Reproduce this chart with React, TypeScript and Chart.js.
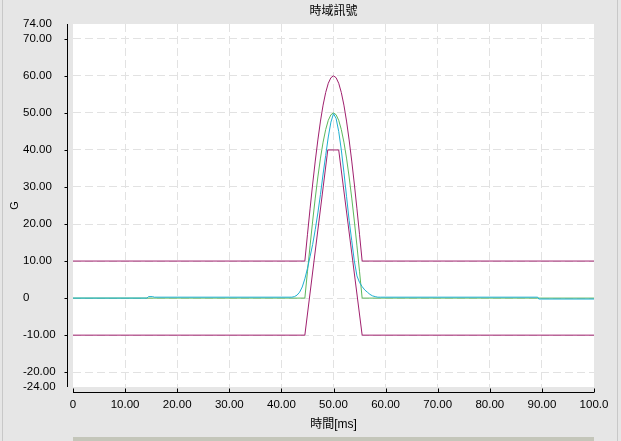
import React, { useEffect, useRef } from "react";
import { Chart, registerables } from "chart.js";

Chart.register(...registerables);

const chartTitle = "時域訊號";
const xAxisTitle = "時間[ms]";
const yAxisTitle = "G";

const xTickValues = [0, 10, 20, 30, 40, 50, 60, 70, 80, 90, 100];
const yTickValues = [-24, -20, -10, 0, 10, 20, 30, 40, 50, 60, 70, 74];

// upper tolerance (magenta)
const upperTimes = [0, 44.5, 45, 45.5, 46, 46.5, 47, 47.5, 48, 48.5, 49, 49.5, 50, 50.5, 51, 51.5, 52, 52.5, 53, 53.5, 54, 54.5, 55, 55.5, 100];
const upperValues = [10, 10, 17.1, 24.1, 30.8, 37.0, 42.7, 47.8, 52.1, 55.5, 58.0, 59.5, 60.0, 59.5, 58.0, 55.5, 52.1, 47.8, 42.7, 37.0, 30.8, 24.1, 17.1, 10, 10];

// nominal pulse (green)
const nominalTimes = [0, 44.5, 45, 45.5, 46, 46.5, 47, 47.5, 48, 48.5, 49, 49.5, 50, 50.5, 51, 51.5, 52, 52.5, 53, 53.5, 54, 54.5, 55, 55.5, 100];
const nominalValues = [0, 0, 7.1, 14.1, 20.8, 27.0, 32.7, 37.8, 42.1, 45.5, 48.0, 49.5, 50.0, 49.5, 48.0, 45.5, 42.1, 37.8, 32.7, 27.0, 20.8, 14.1, 7.1, 0, 0];

// lower tolerance (magenta)
const lowerTimes = [0, 44.5, 48.9, 51.0, 55.5, 100];
const lowerValues = [-10, -10, 40, 40, -10, -10];

// measured signal (cyan)
const measuredTimes = [0, 14.2, 14.5, 15.3, 15.6, 42.0, 42.5, 43, 43.5, 44, 44.5, 45, 45.5, 46, 46.5, 47, 47.5, 48, 48.5, 49, 49.5, 50, 50.5, 51, 51.5, 52, 52.5, 53, 53.5, 54, 54.5, 55, 55.5, 56, 56.5, 57, 57.5, 58, 58.5, 59, 89.2, 89.4, 100];
const measuredValues = [0, 0, 0.4, 0.4, 0.25, 0.25, 0.4, 0.8, 1.6, 3.0, 5.2, 8.0, 11.2, 14.5, 18.5, 23, 28, 33.5, 38.5, 43.5, 47.5, 49.8, 48.5, 45, 40, 34, 27.5, 21, 15.5, 10, 6, 4.2, 3.1, 2.2, 1.6, 1.0, 0.6, 0.4, 0.25, 0.25, 0.25, -0.25, -0.25];

const MAGENTA = "#A0206E";
const GREEN = "#5CB85C";
const CYAN = "#1EAFD2";
const BG = "#E6E6E6";
const GRID = "#E2E2E2";

const NUM_FONT = "'Liberation Sans', Arial, 'Noto Sans CJK TC', sans-serif";
const CJK_FONT = "'Liberation Sans', 'Noto Sans CJK TC', 'Noto Sans CJK JP', sans-serif";

const toPoints = (xs: number[], ys: number[]) => xs.map((x, i) => ({ x, y: ys[i] }));

const fmtY = (v: number) => (v === 0 ? "0" : v.toFixed(2));
const fmtX = (v: number) => (v === 0 ? "0" : v === 100 ? "100.0" : v.toFixed(2));

const framePlugin = {
  id: "framePlugin",
  beforeDraw(chart: any) {
    const { ctx, chartArea } = chart;
    ctx.save();
    ctx.fillStyle = "#FFFFFF";
    ctx.fillRect(chartArea.left, chartArea.top, chartArea.right - chartArea.left, chartArea.bottom - chartArea.top);
    ctx.restore();
  },
  afterDraw(chart: any) {
    const { ctx, chartArea } = chart;
    const xs = chart.scales.x;
    const ys = chart.scales.y;
    ctx.save();
    ctx.strokeStyle = "#000000";
    ctx.lineWidth = 1;
    // y axis
    const ax = chartArea.left - 5.5;
    ctx.beginPath();
    ctx.moveTo(ax, chartArea.top);
    ctx.lineTo(ax, chartArea.bottom);
    yTickValues.forEach((v) => {
      if (v === ys.min || v === ys.max) return;
      const py = Math.round(ys.getPixelForValue(v)) + 0.5;
      ctx.moveTo(ax - 3, py);
      ctx.lineTo(ax, py);
    });
    // x axis
    const ay = chartArea.bottom + 5.5;
    ctx.moveTo(chartArea.left, ay);
    ctx.lineTo(chartArea.right, ay);
    xTickValues.forEach((v) => {
      const px = Math.round(xs.getPixelForValue(v)) + 0.5;
      ctx.moveTo(px, ay);
      ctx.lineTo(px, ay - 4);
    });
    ctx.stroke();

    ctx.fillStyle = "#000000";
    ctx.textAlign = "center";
    ctx.textBaseline = "middle";
    ctx.font = "12px " + CJK_FONT;
    ctx.fillText(chartTitle, (chartArea.left + chartArea.right) / 2, 12);

    ctx.translate(15, (chartArea.top + chartArea.bottom) / 2);
    ctx.rotate(-Math.PI / 2);
    ctx.font = "11px " + NUM_FONT;
    ctx.fillText(yAxisTitle, 0, 0);
    ctx.restore();
  },
};

export default function App() {
  const canvasRef = useRef<HTMLCanvasElement | null>(null);

  useEffect(() => {
    document.body.style.margin = "0";
    const canvas = canvasRef.current;
    if (!canvas) return;
    const chart = new Chart(canvas, {
      type: "line",
      data: {
        datasets: [
          { label: "measured", data: toPoints(measuredTimes, measuredValues), borderColor: CYAN, backgroundColor: CYAN },
          { label: "nominal", data: toPoints(nominalTimes, nominalValues), borderColor: GREEN, backgroundColor: GREEN },
          { label: "upper", data: toPoints(upperTimes, upperValues), borderColor: MAGENTA, backgroundColor: MAGENTA },
          { label: "lower", data: toPoints(lowerTimes, lowerValues), borderColor: MAGENTA, backgroundColor: MAGENTA },
        ],
      },
      options: {
        responsive: false,
        animation: false,
        devicePixelRatio: 1,
        layout: { padding: { left: 23, right: 27, top: 24, bottom: 0 } },
        elements: {
          point: { radius: 0, hoverRadius: 0 },
          line: { borderWidth: 1, tension: 0, fill: false },
        },
        plugins: {
          legend: { display: false },
          title: { display: false },
          tooltip: { enabled: false },
        },
        events: [],
        scales: {
          x: {
            type: "linear",
            min: 0,
            max: 100,
            afterBuildTicks: (scale: any) => {
              scale.ticks = xTickValues.map((v) => ({ value: v }));
            },
            afterFit: (scale: any) => {
              scale.height = 54;
            },
            ticks: {
              autoSkip: false,
              maxRotation: 0,
              padding: 11,
              color: "#000000",
              font: { family: NUM_FONT, size: 11.5 },
              callback: (v: any) => fmtX(Number(v)),
            },
            grid: {
              drawTicks: false,
              color: (c: any) => (c.tick && (c.tick.value === 0 || c.tick.value === 100) ? "rgba(0,0,0,0)" : GRID),
              lineWidth: 1,
            },
            border: { display: false, dash: [8, 4] },
            title: {
              display: true,
              text: xAxisTitle,
              color: "#000000",
              font: { family: CJK_FONT, size: 12 },
              padding: { top: 0, bottom: 9 },
            },
          },
          y: {
            type: "linear",
            min: -24,
            max: 74,
            afterBuildTicks: (scale: any) => {
              scale.ticks = yTickValues.map((v) => ({ value: v }));
            },
            afterFit: (scale: any) => {
              scale.width = 50;
            },
            ticks: {
              autoSkip: false,
              crossAlign: "far",
              padding: 6,
              color: "#000000",
              font: { family: NUM_FONT, size: 11.5 },
              callback: (v: any) => fmtY(Number(v)),
            },
            grid: {
              drawTicks: false,
              color: (c: any) => (c.tick && (c.tick.value === -24 || c.tick.value === 74) ? "rgba(0,0,0,0)" : GRID),
              lineWidth: 1,
            },
            border: { display: false, dash: [8, 4] },
            title: { display: false },
          },
        },
      },
      plugins: [framePlugin],
    } as any);
    return () => chart.destroy();
  }, []);

  return (
    <div style={{ position: "relative", width: 621, height: 441, background: BG, overflow: "hidden" }}>
      <canvas ref={canvasRef} width={621} height={441} style={{ display: "block", position: "absolute", left: 0, top: 0 }} />
      <div style={{ position: "absolute", left: 2, top: 0, width: 1, height: 441, background: "#C8C8C8" }} />
      <div style={{ position: "absolute", left: 617, top: 0, width: 1, height: 441, background: "#C8C8C8" }} />
      <div style={{ position: "absolute", left: 73, top: 437, width: 521, height: 4, background: "#C4C6BA" }} />
    </div>
  );
}
